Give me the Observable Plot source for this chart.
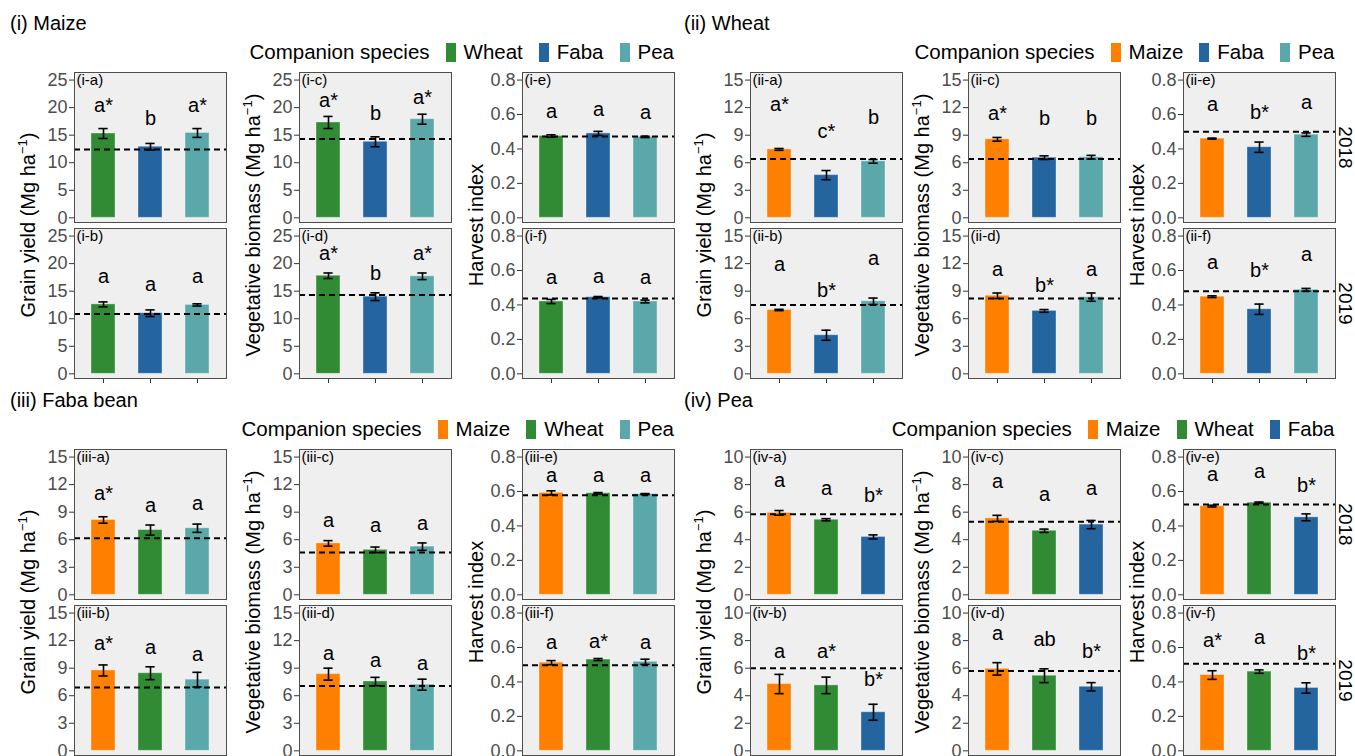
<!DOCTYPE html>
<html><head><meta charset="utf-8">
<script src="https://cdn.jsdelivr.net/npm/d3@7"></script>
<script src="https://cdn.jsdelivr.net/npm/@observablehq/plot@0.6"></script>
<style>
body{margin:0;background:#fff;}
#chart{position:relative;width:1355px;height:756px;overflow:hidden;font-family:"Liberation Sans",Arial,Helvetica,sans-serif;color:#000;}
.abs{position:absolute;}
.title{font-size:20px;line-height:20px;white-space:nowrap;}
.ytitle{font-size:20px;line-height:20px;white-space:nowrap;transform:translate(-50%,-50%) rotate(-90deg);}
.ytitle sup{font-size:13px;line-height:0;vertical-align:8px;}
.legend{display:flex;align-items:center;font-size:20.5px;line-height:20px;white-space:nowrap;}
.sw{display:inline-block;width:10px;height:19px;margin:0 8px 0 16px;}
.panel svg{overflow:visible;background:transparent;max-width:none;}
.panel g[aria-label^="y-axis"] text{fill:#4d4d4d;}
.panel g[aria-label^="y-axis"] line,.panel g[aria-label^="y-axis"] path,.panel g[aria-label^="x-axis"] line,.panel g[aria-label^="x-axis"] path{stroke:#333;}
</style></head>
<body><div id="chart"></div>
<script>
// ---------------- data ----------------
const years = ["2018", "2019"];
// [year, companion, mean, se, significance letter, letter height]
const maizeCompanions = ["Wheat", "Faba", "Pea"];
const maizeGrain = [
  ["2018","Wheat",15.3,0.9,"a*",20.4],["2018","Faba",12.9,0.6,"b",18.0],["2018","Pea",15.4,0.8,"a*",20.4],
  ["2019","Wheat",12.6,0.45,"a",17.7],["2019","Faba",11.0,0.6,"a",16.2],["2019","Pea",12.5,0.2,"a",17.7]];
const maizeVeg = [
  ["2018","Wheat",17.3,1.1,"a*",21.3],["2018","Faba",13.8,0.9,"b",19.0],["2018","Pea",17.9,0.9,"a*",21.9],
  ["2019","Wheat",17.8,0.5,"a*",21.9],["2019","Faba",14.0,0.7,"b",18.2],["2019","Pea",17.7,0.6,"a*",21.9]];
const maizeHI = [
  ["2018","Wheat",0.475,0.007,"a",0.615],["2018","Faba",0.49,0.012,"a",0.628],["2018","Pea",0.47,0.004,"a",0.612],
  ["2019","Wheat",0.42,0.012,"a",0.556],["2019","Faba",0.445,0.004,"a",0.566],["2019","Pea",0.42,0.008,"a",0.556]];
const maizeSoleGrain = [12.4, 10.85];
const maizeSoleVeg = [14.3, 14.3];
const maizeSoleHI = [0.472, 0.437];

const wheatCompanions = ["Maize", "Faba", "Pea"];
const wheatGrain = [
  ["2018","Maize",7.45,0.1,"a*",12.3],["2018","Faba",4.65,0.5,"c*",9.4],["2018","Pea",6.15,0.2,"b",10.9],
  ["2019","Maize",6.95,0.07,"a",11.9],["2019","Faba",4.2,0.55,"b*",9.1],["2019","Pea",7.9,0.35,"a",12.6]];
const wheatVeg = [
  ["2018","Maize",8.55,0.2,"a*",11.4],["2018","Faba",6.55,0.2,"b",10.8],["2018","Pea",6.6,0.2,"b",10.8],
  ["2019","Maize",8.5,0.3,"a",11.3],["2019","Faba",6.85,0.15,"b*",9.6],["2019","Pea",8.35,0.45,"a",11.3]];
const wheatHI = [
  ["2018","Maize",0.46,0.003,"a",0.655],["2018","Faba",0.41,0.03,"b*",0.61],["2018","Pea",0.483,0.01,"a",0.672],
  ["2019","Maize",0.448,0.005,"a",0.645],["2019","Faba",0.375,0.03,"b*",0.6],["2019","Pea",0.488,0.008,"a",0.69]];
const wheatSoleGrain = [6.4, 7.5];
const wheatSoleVeg = [6.4, 8.2];
const wheatSoleHI = [0.50, 0.48];

const fabaCompanions = ["Maize", "Wheat", "Pea"];
const fabaGrain = [
  ["2018","Maize",8.15,0.35,"a*",11.0],["2018","Wheat",7.05,0.55,"a",9.7],["2018","Pea",7.25,0.45,"a",9.9],
  ["2019","Maize",8.75,0.6,"a*",11.7],["2019","Wheat",8.45,0.7,"a",11.2],["2019","Pea",7.75,0.8,"a",10.5]];
const fabaVeg = [
  ["2018","Maize",5.6,0.3,"a",8.1],["2018","Wheat",4.9,0.3,"a",7.5],["2018","Pea",5.25,0.4,"a",7.8],
  ["2019","Maize",8.35,0.65,"a",10.6],["2019","Wheat",7.55,0.45,"a",9.8],["2019","Pea",7.2,0.6,"a",9.5]];
const fabaHI = [
  ["2018","Maize",0.592,0.012,"a",0.69],["2018","Wheat",0.59,0.004,"a",0.69],["2018","Pea",0.585,0.003,"a",0.69],
  ["2019","Maize",0.512,0.012,"a",0.626],["2019","Wheat",0.53,0.006,"a*",0.636],["2019","Pea",0.517,0.015,"a",0.626]];
const fabaSoleGrain = [6.15, 6.9];
const fabaSoleVeg = [4.6, 7.05];
const fabaSoleHI = [0.578, 0.497];

const peaCompanions = ["Maize", "Wheat", "Faba"];
const peaGrain = [
  ["2018","Maize",5.95,0.17,"a",8.3],["2018","Wheat",5.45,0.08,"a",7.7],["2018","Faba",4.2,0.15,"b*",7.2],
  ["2019","Maize",4.85,0.7,"a",7.2],["2019","Wheat",4.75,0.6,"a*",7.2],["2019","Faba",2.8,0.58,"b*",5.15]];
const peaVeg = [
  ["2018","Maize",5.55,0.22,"a",8.2],["2018","Wheat",4.65,0.12,"a",7.3],["2018","Faba",5.1,0.3,"a",7.7],
  ["2019","Maize",5.95,0.45,"a",8.5],["2019","Wheat",5.45,0.5,"ab",8.05],["2019","Faba",4.65,0.3,"b*",7.2]];
const peaHI = [
  ["2018","Maize",0.515,0.005,"a",0.7],["2018","Wheat",0.535,0.004,"a",0.715],["2018","Faba",0.45,0.02,"b*",0.635],
  ["2019","Maize",0.44,0.025,"a*",0.64],["2019","Wheat",0.46,0.01,"a",0.655],["2019","Faba",0.365,0.03,"b*",0.565]];
const peaSoleGrain = [5.85, 6.0];
const peaSoleVeg = [5.3, 5.8];
const peaSoleHI = [0.525, 0.505];

const ticks25 = [0, 5, 10, 15, 20, 25];
const ticks15 = [0, 3, 6, 9, 12, 15];
const ticks10 = [0, 2, 4, 6, 8, 10];
const ticksHI = [0, 0.2, 0.4, 0.6, 0.8];

const speciesColors = {Maize: "#FF8000", Wheat: "#318B35", Faba: "#24649F", Pea: "#5AA8A9"};

// ---------------- layout ----------------
const FONT = '"Liberation Sans", Arial, Helvetica, sans-serif';
const PW = 152, PH = 150, GAP = 6, MT = 4, MB = 8, ML = 46;
const colLeft = {L: [73.5, 299, 522], R: [750, 968, 1182.5]};
const quadTop = [0, 377];
const rowTop0 = 71.5;

const chart = document.getElementById("chart");
function add(html) { const t = document.createElement("div"); t.innerHTML = html; const el = t.firstElementChild; chart.appendChild(el); return el; }

const toRows = arr => arr.map(([year, companion, mean, se, letter, ly]) => ({year, companion, mean, se, letter, ly}));
const toSole = arr => arr.map((value, i) => ({year: years[i], value}));

function column({q, colIdx, rows, sole, comps, ticks, max, fmt, strip}) {
  const mr = strip ? 20 : 2;
  const labels = years.map((y, i) => ({year: y, label: `(${q}-${"abcdef"[colIdx * 2 + i]})`}));
  const bw = PW / 3.2 * 0.5, inset = (bw - 9) / 2;
  const lo = d => d.mean - d.se, hi = d => d.mean + d.se;
  return Plot.plot({
    width: ML + PW + mr, height: MT + 2 * PH + GAP + MB,
    marginLeft: ML, marginRight: mr, marginTop: MT, marginBottom: MB,
    style: {fontFamily: FONT, fontSize: "18px", background: "transparent", overflow: "visible", maxWidth: "none"},
    x: {domain: comps, paddingInner: 0.5, paddingOuter: 0.35, tickFormat: () => "", tickSize: 5, label: null},
    y: {domain: [-0.034 * max, 1.055 * max], ticks, tickFormat: fmt, tickSize: 5, tickPadding: 2, label: null},
    fy: {domain: years, paddingInner: GAP / (PH + GAP), paddingOuter: 0, axis: null, label: null},
    marks: [
      Plot.frame({fill: "#EFEFEF"}),
      Plot.barY(rows, {x: "companion", y: "mean", fy: "year", fill: d => speciesColors[d.companion], stroke: "#ffffff", strokeOpacity: 0.35, strokeWidth: 1}),
      Plot.ruleY(sole, {y: "value", fy: "year", stroke: "#000", strokeWidth: 2, strokeDasharray: "6,4"}),
      Plot.ruleX(rows, {x: "companion", y1: lo, y2: hi, fy: "year", stroke: "#000", strokeWidth: 1.6}),
      Plot.tickY(rows, {x: "companion", y: lo, fy: "year", stroke: "#000", strokeWidth: 1.6, insetLeft: inset, insetRight: inset}),
      Plot.tickY(rows, {x: "companion", y: hi, fy: "year", stroke: "#000", strokeWidth: 1.6, insetLeft: inset, insetRight: inset}),
      Plot.text(rows, {x: "companion", y: "ly", text: "letter", fy: "year", fontSize: 20, fill: "#000"}),
      Plot.text(labels, {fy: "year", text: "label", frameAnchor: "top-left", textAnchor: "start", lineAnchor: "top", dx: 2, dy: 2, fontSize: 15, fill: "#000"}),
      strip ? Plot.text(labels, {fy: "year", text: "year", frameAnchor: "right", textAnchor: "middle", lineAnchor: "middle", dx: 10, rotate: 90, fontSize: 19, fill: "#000"}) : null,
      Plot.frame({stroke: "#4d4d4d", strokeWidth: 1})
    ]
  });
}

const f1 = d3.format(".1f"), f0 = d3.format("d");
const quads = [
  {q: "i", title: "(i) Maize", side: "L", v: 0, comps: maizeCompanions,
   cols: [[maizeGrain, maizeSoleGrain, ticks25, 25, f0], [maizeVeg, maizeSoleVeg, ticks25, 25, f0], [maizeHI, maizeSoleHI, ticksHI, 0.8, f1]]},
  {q: "ii", title: "(ii) Wheat", side: "R", v: 0, comps: wheatCompanions, strip: true,
   cols: [[wheatGrain, wheatSoleGrain, ticks15, 15, f0], [wheatVeg, wheatSoleVeg, ticks15, 15, f0], [wheatHI, wheatSoleHI, ticksHI, 0.8, f1]]},
  {q: "iii", title: "(iii) Faba bean", side: "L", v: 1, comps: fabaCompanions,
   cols: [[fabaGrain, fabaSoleGrain, ticks15, 15, f0], [fabaVeg, fabaSoleVeg, ticks15, 15, f0], [fabaHI, fabaSoleHI, ticksHI, 0.8, f1]]},
  {q: "iv", title: "(iv) Pea", side: "R", v: 1, comps: peaCompanions, strip: true,
   cols: [[peaGrain, peaSoleGrain, ticks10, 10, f0], [peaVeg, peaSoleVeg, ticks10, 10, f0], [peaHI, peaSoleHI, ticksHI, 0.8, f1]]}
];
const yTitles = ["Grain yield (Mg ha<sup>−1</sup>)", "Vegetative biomass (Mg ha<sup>−1</sup>)", "Harvest index"];

for (const Q of quads) {
  const top = quadTop[Q.v];
  const lefts = colLeft[Q.side];
  const titleX = Q.side === "L" ? 10 : 684;
  add(`<div class="abs title" style="left:${titleX}px;top:${top + 13}px">${Q.title}</div>`);
  // legend
  const right = lefts[2] + PW;
  const items = Q.comps.map(c => `<span class="sw" style="background:${speciesColors[c]}"></span><span>${c}</span>`).join("");
  add(`<div class="abs legend" style="right:${1355 - right}px;top:${top + 42}px"><span>Companion species</span>${items}</div>`);
  const panelTop = top + rowTop0;
  Q.cols.forEach(([data, sole, ticks, max, fmt], ci) => {
    const strip = Q.strip && ci === 2;
    const svg = column({q: Q.q, colIdx: ci, rows: toRows(data), sole: toSole(sole), comps: Q.comps, ticks, max, fmt, strip});
    const wrap = document.createElement("div");
    wrap.className = "abs panel";
    wrap.style.left = (lefts[ci] - ML) + "px";
    wrap.style.top = (panelTop - MT) + "px";
    wrap.style.width = (ML + PW + (strip ? 20 : 2)) + "px";
    wrap.appendChild(svg);
    chart.appendChild(wrap);
    add(`<div class="abs ytitle" style="left:${lefts[ci] - 46}px;top:${panelTop + PH + GAP / 2}px">${yTitles[ci]}</div>`);
  });
}
</script></body></html>
